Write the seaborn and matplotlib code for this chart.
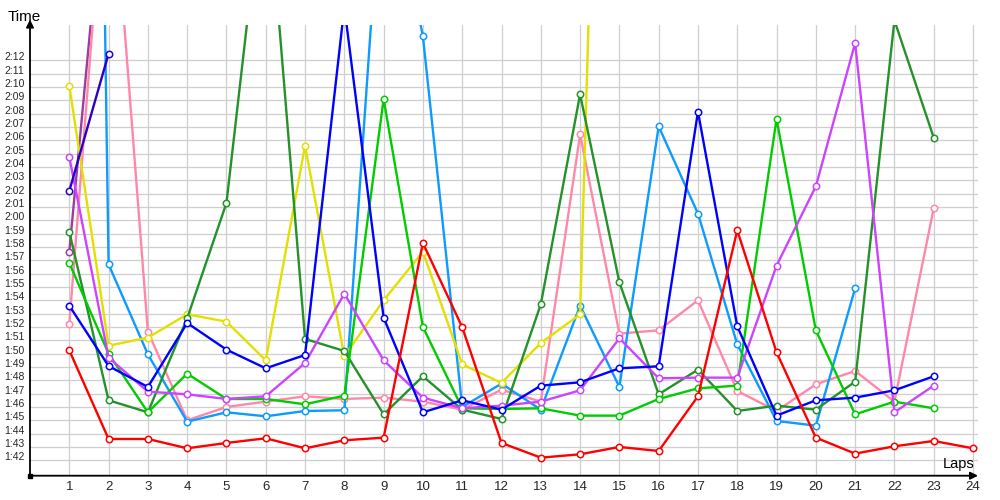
import matplotlib
matplotlib.use("Agg")
import matplotlib.pyplot as plt
import seaborn as sns
import pandas as pd

# ---- data (lap times in seconds) ----
laps = list(range(1, 25))
ytick_vals = list(range(102, 133))
ytick_labels = [f"{v // 60}:{v % 60:02d}" for v in ytick_vals]

purple = [117.65, 149.0]
pink = [112.2, 150.0, 111.65, 105.0, 106.0, 106.4, 106.8, 106.6, 106.7, 106.4, 105.8,
        107.3, 106.4, 126.45, 111.5, 111.75, 114.0, 107.2, 105.7, 107.7, 108.7, 106.4, 120.9]
lightblue = [315.0, 116.7, 109.95, 104.9, 105.6, 105.3, 105.7, 105.75, 148.4, 133.8, 106.0,
             107.75, 105.8, 113.6, 107.5, 127.05, 120.5, 110.7, 104.95, 104.6, 114.9]
yellow = [130.1, 110.6, 111.2, 112.95, 112.4, 109.5, 125.6, 109.8, 114.0, 117.65, 109.2,
          107.8, 110.8, 112.95, 215.0]
darkgreen = [119.15, 106.5, 105.6, 112.65, 121.3, 147.0, 111.1, 110.2, 105.45, 108.3, 105.8,
             105.1, 113.7, 129.45, 115.35, 106.95, 108.8, 105.7, 106.1, 105.8, 107.9, 135.0, 126.2]
green = [116.8, 110.0, 105.6, 108.5, 106.6, 106.6, 106.2, 106.85, 129.1, 112.0, 105.9,
         105.85, 105.9, 105.35, 105.35, 106.6, 107.4, 107.6, 127.6, 111.75, 105.45, 106.4, 105.9]
violet = [124.75, 109.7, 107.15, 106.95, 106.6, 106.8, 109.3, 114.5, 109.5, 106.7, 105.9,
          106.1, 106.4, 107.25, 111.15, 108.15, 108.2, 108.2, 116.6, 122.55, 133.3, 105.6, 107.6]
indigo = [122.2, 132.5]
blue = [113.6, 109.07, 107.5, 112.3, 110.3, 108.9, 109.9, 136.0, 112.7, 105.6, 106.5,
        105.8, 107.6, 107.85, 108.9, 109.05, 128.15, 112.05, 105.35, 106.5, 106.7, 107.25, 108.3]
red = [110.25, 103.6, 103.6, 102.9, 103.3, 103.65, 102.9, 103.5, 103.7, 118.3, 111.98,
       103.3, 102.2, 102.45, 103.0, 102.7, 106.8, 119.25, 110.1, 103.7, 102.5, 103.05, 103.45, 102.9]

series = [
    ("purple", purple, "#9a3d9e"),
    ("pink", pink, "#ff88aa"),
    ("lightblue", lightblue, "#0d9bff"),
    ("yellow", yellow, "#e3e000"),
    ("darkgreen", darkgreen, "#23922a"),
    ("green", green, "#00cc00"),
    ("violet", violet, "#cc44ff"),
    ("indigo", indigo, "#2a00c8"),
    ("blue", blue, "#0000ff"),
    ("red", red, "#ff0000"),
]

sns.set_style("white")
plt.rcParams["font.family"] = ["Liberation Sans", "DejaVu Sans"]

fig = plt.figure(figsize=(10, 5), dpi=100)
ax = fig.add_axes([30 / 1000, (500 - 475.7) / 500, 948 / 1000, 450.7 / 500])

for name, vals, col in series:
    df = pd.DataFrame({"lap": laps[:len(vals)], "time": vals})
    sns.lineplot(data=df, x="lap", y="time", color=col, linewidth=1.7,
                 marker="o", markersize=4.6, markerfacecolor="white",
                 markeredgecolor=col, markeredgewidth=1.1, ax=ax, zorder=3)

ax.set_xlim(0, 24.127)
ax.set_ylim(100.845, 134.65)
ax.set_xticks(laps)
ax.set_xticklabels([str(l) for l in laps], fontsize=9.5)
ax.set_yticks(ytick_vals)
ax.set_yticklabels(ytick_labels, fontsize=7.5)
ax.tick_params(axis="y", length=0, pad=18.7)
ax.tick_params(axis="x", length=0, pad=3.5)
for lab in ax.get_yticklabels():
    lab.set_horizontalalignment("left")
    lab.set_verticalalignment("baseline")
ax.grid(True, color="#cfcfcf", linewidth=0.9)
ax.set_axisbelow(True)
for s in ax.spines.values():
    s.set_visible(False)
ax.set_xlabel("")
ax.set_ylabel("")

# axes with arrow heads
ax.annotate("", xy=(0, 1.012), xytext=(0, 0), xycoords="axes fraction",
            arrowprops=dict(arrowstyle="-|>", color="black", lw=1.3,
                            mutation_scale=11, shrinkA=0, shrinkB=0))
ax.annotate("", xy=(1.0, 0), xytext=(0, 0), xycoords="axes fraction",
            arrowprops=dict(arrowstyle="-|>", color="black", lw=1.3,
                            mutation_scale=11, shrinkA=0, shrinkB=0))
ax.plot([0], [0], marker="s", markersize=3, color="black", transform=ax.transAxes,
        clip_on=False, zorder=5)

fig.text(8 / 1000, 1 - 21 / 500, "Time", fontsize=11, color="black",
         ha="left", va="baseline")
fig.text(975 / 1000, 1 - 468 / 500, "Laps", fontsize=10.5, color="black",
         ha="right", va="baseline")

fig.savefig("out.png", dpi=100, facecolor="white")
